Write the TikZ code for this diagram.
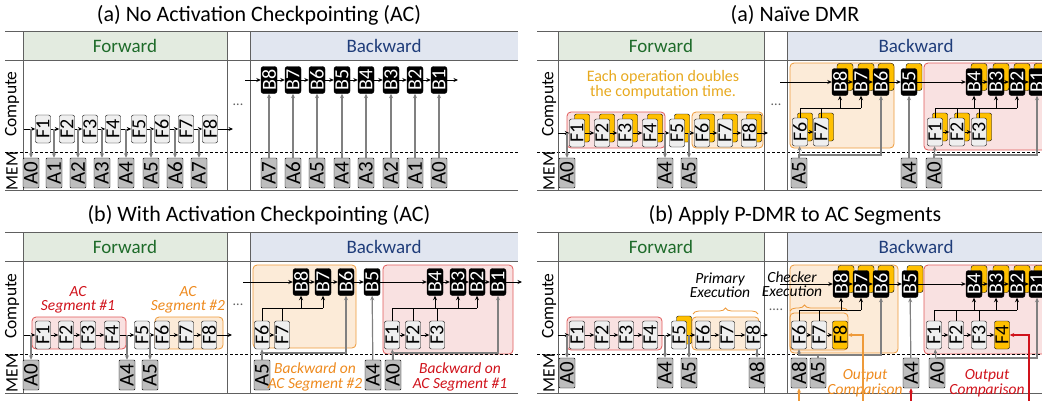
\documentclass[tikz,border=0pt]{standalone}
\usepackage{fontspec}
\setmainfont{Carlito}
\usetikzlibrary{arrows.meta,shadows,decorations.pathreplacing}
\definecolor{fwdfill}{HTML}{E3EBE0}
\definecolor{fwdtext}{HTML}{1E6B2A}
\definecolor{bwdfill}{HTML}{E1E6F0}
\definecolor{bwdtext}{HTML}{1F3D7A}
\definecolor{segred}{HTML}{E05A5A}
\definecolor{segredfill}{HTML}{F9E1E1}
\definecolor{txtred}{HTML}{D0121B}
\definecolor{segorange}{HTML}{EE9A3A}
\definecolor{segorangefill}{HTML}{FCEBD8}
\definecolor{txtorange}{HTML}{EE8A1E}
\definecolor{dmryel}{HTML}{FFC000}
\definecolor{goldtext}{HTML}{E7A91F}
\definecolor{fgray}{HTML}{EFEFEF}
\definecolor{agray}{HTML}{BDBDBD}
\definecolor{arrowgray}{HTML}{808080}
\definecolor{framegray}{HTML}{606060}

\begin{document}
\begin{tikzpicture}[
    x=1pt,y=-1pt,>={Stealth[length=4.5pt,width=4pt]},
    fop/.style={draw,fill=fgray,rounded corners=2pt,minimum width=15pt,minimum height=28pt,inner sep=0pt,font=\fontsize{20}{20}\selectfont},
    bop/.style={draw,fill=black,text=white,rounded corners=2.5pt,minimum width=16pt,minimum height=27pt,inner sep=0pt,font=\fontsize{20}{20}\selectfont},
    aop/.style={draw,fill=agray,rounded corners=1pt,minimum width=16pt,minimum height=30pt,inner sep=0pt,font=\fontsize{21}{21}\selectfont},
    dup/.style={copy shadow={fill=dmryel,draw=black,shadow xshift=5pt,shadow yshift=5pt}},
    title/.style={font=\fontsize{22}{22}\selectfont},
    fwdhead/.style={fill=fwdfill,text=fwdtext,font=\fontsize{19}{19}\selectfont,inner sep=0pt,minimum height=29pt},
    bwdhead/.style={fill=bwdfill,text=bwdtext,font=\fontsize{19}{19}\selectfont,inner sep=0pt,minimum height=29pt},
    side/.style={rotate=90,font=\fontsize{17.5}{17.5}\selectfont,inner sep=0pt},
    frame/.style={draw=framegray,line width=1pt},
    memline/.style={densely dashed,line width=0.6pt},
    flow/.style={->,line width=0.8pt},
    bus/.style={line width=0.8pt},
    garrow/.style={->,draw=arrowgray,line width=1.2pt},
    redbox/.style={draw=segred,fill=segredfill,rounded corners=4pt,line width=0.8pt},
    orangebox/.style={draw=segorange,fill=segorangefill,rounded corners=4pt,line width=0.8pt},
    note/.style={font=\fontsize{15.5}{14.5}\selectfont\itshape,align=center},
    dots/.style={font=\fontsize{14}{14}\selectfont,text=framegray}
    ]
  \useasboundingbox (0,0) rectangle (1042,400);

  \node[title] (ttlA) at (259,15) {(a) No Activation Checkpointing (AC)};
  \node[fwdhead,minimum width=204pt] (fwdA) at (125,45.5) {Forward};
  \node[bwdhead,minimum width=268pt] (bwdA) at (384,45.5) {Backward};
  \draw[frame] (5,31) -- (518,31);
  \draw[frame] (5,60) -- (518,60);
  \draw[memline] (5,152) -- (518,152);
  \draw[frame] (5,190) -- (518,190);
  \draw[frame] (23,31) -- (23,190);
  \draw[frame] (227,31) -- (227,190);
  \draw[frame] (250,31) -- (250,190);
  \node[side] (cmpA) at (12,104) {Compute};
  \node[side] (memA) at (12,171) {MEM};
  \node[dots] (dotsA) at (238,105) {...};
  \node[fop] (fa1) at (43,129) {\rotatebox{90}{F1}};
  \node[fop] (fa2) at (67,129) {\rotatebox{90}{F2}};
  \node[fop] (fa3) at (90,129) {\rotatebox{90}{F3}};
  \node[fop] (fa4) at (113,129) {\rotatebox{90}{F4}};
  \node[fop] (fa5) at (139,129) {\rotatebox{90}{F5}};
  \node[fop] (fa6) at (162,129) {\rotatebox{90}{F6}};
  \node[fop] (fa7) at (186,129) {\rotatebox{90}{F7}};
  \node[fop] (fa8) at (210,129) {\rotatebox{90}{F8}};
  \node[aop] (aa0) at (31,173) {\rotatebox{90}{A0}};
  \node[aop] (aa1) at (54,173) {\rotatebox{90}{A1}};
  \node[aop] (aa2) at (78,173) {\rotatebox{90}{A2}};
  \node[aop] (aa3) at (102,173) {\rotatebox{90}{A3}};
  \node[aop] (aa4) at (126,173) {\rotatebox{90}{A4}};
  \node[aop] (aa5) at (151,173) {\rotatebox{90}{A5}};
  \node[aop] (aa6) at (175,173) {\rotatebox{90}{A6}};
  \node[aop] (aa7) at (199,173) {\rotatebox{90}{A7}};
  \coordinate (inA) at (24,129);
  \coordinate (outA) at (233,129);
  \draw[flow] (inA) -- (fa1);
  \draw[flow] (fa1) -- (fa2);
  \draw[flow] (fa2) -- (fa3);
  \draw[flow] (fa3) -- (fa4);
  \draw[flow] (fa4) -- (fa5);
  \draw[flow] (fa5) -- (fa6);
  \draw[flow] (fa6) -- (fa7);
  \draw[flow] (fa7) -- (fa8);
  \draw[flow] (fa8) -- (outA);
  \draw[garrow] (aa0 |- fa1) -- (aa0);
  \draw[garrow] (aa1 |- fa1) -- (aa1);
  \draw[garrow] (aa2 |- fa1) -- (aa2);
  \draw[garrow] (aa3 |- fa1) -- (aa3);
  \draw[garrow] (aa4 |- fa1) -- (aa4);
  \draw[garrow] (aa5 |- fa1) -- (aa5);
  \draw[garrow] (aa6 |- fa1) -- (aa6);
  \draw[garrow] (aa7 |- fa1) -- (aa7);
  \node[bop] (ba8) at (269,80) {\rotatebox{90}{B8}};
  \node[bop] (ba7) at (293,80) {\rotatebox{90}{B7}};
  \node[bop] (ba6) at (317,80) {\rotatebox{90}{B6}};
  \node[bop] (ba5) at (342,80) {\rotatebox{90}{B5}};
  \node[bop] (ba4) at (366,80) {\rotatebox{90}{B4}};
  \node[bop] (ba3) at (391,80) {\rotatebox{90}{B3}};
  \node[bop] (ba2) at (415,80) {\rotatebox{90}{B2}};
  \node[bop] (ba1) at (439,80) {\rotatebox{90}{B1}};
  \node[aop] (ma7) at (269,173) {\rotatebox{90}{A7}};
  \node[aop] (ma6) at (293,173) {\rotatebox{90}{A6}};
  \node[aop] (ma5) at (317,173) {\rotatebox{90}{A5}};
  \node[aop] (ma4) at (342,173) {\rotatebox{90}{A4}};
  \node[aop] (ma3) at (366,173) {\rotatebox{90}{A3}};
  \node[aop] (ma2) at (391,173) {\rotatebox{90}{A2}};
  \node[aop] (ma1) at (415,173) {\rotatebox{90}{A1}};
  \node[aop] (ma0) at (439,173) {\rotatebox{90}{A0}};
  \coordinate (inAb) at (245,80);
  \coordinate (outAb) at (458,80);
  \draw[flow] (inAb) -- (ba8);
  \draw[flow] (ba8) -- (ba7);
  \draw[flow] (ba7) -- (ba6);
  \draw[flow] (ba6) -- (ba5);
  \draw[flow] (ba5) -- (ba4);
  \draw[flow] (ba4) -- (ba3);
  \draw[flow] (ba3) -- (ba2);
  \draw[flow] (ba2) -- (ba1);
  \draw[flow] (ba1) -- (outAb);
  \draw[garrow] (ma7) -- (ba8);
  \draw[garrow] (ma6) -- (ba7);
  \draw[garrow] (ma5) -- (ba6);
  \draw[garrow] (ma4) -- (ba5);
  \draw[garrow] (ma3) -- (ba4);
  \draw[garrow] (ma2) -- (ba3);
  \draw[garrow] (ma1) -- (ba2);
  \draw[garrow] (ma0) -- (ba1);

  \node[title] (ttlB) at (259,215) {(b) With Activation Checkpointing (AC)};
  \node[fwdhead,minimum width=204pt] (fwdB) at (125,246.5) {Forward};
  \node[bwdhead,minimum width=268pt] (bwdB) at (384,246.5) {Backward};
  \draw[redbox] (32,317) rectangle (126,349);
  \draw[orangebox] (155,317) rectangle (223,349);
  \draw[orangebox] (253,265) rectangle (356,348);
  \draw[redbox] (383,265) rectangle (513,354);
  \draw[frame] (5,232) -- (518,232);
  \draw[frame] (5,261) -- (518,261);
  \draw[memline] (5,354) -- (518,354);
  \draw[frame] (5,393) -- (518,393);
  \draw[frame] (23,232) -- (23,393);
  \draw[frame] (227,232) -- (227,393);
  \draw[frame] (250,232) -- (250,393);
  \node[side] (cmpB) at (12,306) {Compute};
  \node[side] (memB) at (12,373) {MEM};
  \node[dots] (dotsB) at (238,305) {...};
  \node[note,text=txtred] (segB1) at (78,300) {AC\\Segment \#1};
  \node[note,text=txtorange] (segB2) at (188,300) {AC\\Segment \#2};
  \node[fop] (fb1) at (43,335) {\rotatebox{90}{F1}};
  \node[fop] (fb2) at (66,335) {\rotatebox{90}{F2}};
  \node[fop] (fb3) at (88,335) {\rotatebox{90}{F3}};
  \node[fop] (fb4) at (112,335) {\rotatebox{90}{F4}};
  \node[fop] (fb5) at (142,335) {\rotatebox{90}{F5}};
  \node[fop] (fb6) at (162,335) {\rotatebox{90}{F6}};
  \node[fop] (fb7) at (186,335) {\rotatebox{90}{F7}};
  \node[fop] (fb8) at (209,335) {\rotatebox{90}{F8}};
  \node[aop] (ab0) at (31,375) {\rotatebox{90}{A0}};
  \node[aop] (ab4) at (127,375) {\rotatebox{90}{A4}};
  \node[aop] (ab5) at (150,375) {\rotatebox{90}{A5}};
  \coordinate (inB) at (24,335);
  \coordinate (outB) at (232,335);
  \draw[flow] (inB) -- (fb1);
  \draw[flow] (fb1) -- (fb2);
  \draw[flow] (fb2) -- (fb3);
  \draw[flow] (fb3) -- (fb4);
  \draw[flow] (fb4) -- (fb5);
  \draw[flow] (fb5) -- (fb6);
  \draw[flow] (fb6) -- (fb7);
  \draw[flow] (fb7) -- (fb8);
  \draw[flow] (fb8) -- (outB);
  \draw[garrow] (ab0 |- fb1) -- (ab0);
  \draw[garrow] (ab4 |- fb1) -- (ab4);
  \draw[garrow] (ab5 |- fb1) -- (ab5);
  \node[bop] (bb8) at (301,282) {\rotatebox{90}{B8}};
  \node[bop] (bb7) at (323,282) {\rotatebox{90}{B7}};
  \node[bop] (bb6) at (346,282) {\rotatebox{90}{B6}};
  \node[bop] (bb5) at (372,282) {\rotatebox{90}{B5}};
  \node[bop] (bb4) at (435,282) {\rotatebox{90}{B4}};
  \node[bop] (bb3) at (458,282) {\rotatebox{90}{B3}};
  \node[bop] (bb2) at (477,282) {\rotatebox{90}{B2}};
  \node[bop] (bb1) at (498,282) {\rotatebox{90}{B1}};
  \node[fop] (bf6) at (262,335) {\rotatebox{90}{F6}};
  \node[fop] (bf7) at (282,335) {\rotatebox{90}{F7}};
  \node[fop] (bf1) at (392,335) {\rotatebox{90}{F1}};
  \node[fop] (bf2) at (413,335) {\rotatebox{90}{F2}};
  \node[fop] (bf3) at (437,335) {\rotatebox{90}{F3}};
  \node[aop] (mb5) at (262,375) {\rotatebox{90}{A5}};
  \node[aop] (mb4) at (373,375) {\rotatebox{90}{A4}};
  \node[aop] (mb0) at (393,375) {\rotatebox{90}{A0}};
  \node[note,text=txtorange] (bwdB2) at (315,377) {Backward on\\AC Segment \#2};
  \node[note,text=txtred] (bwdB1) at (460,377) {Backward on\\AC Segment \#1};
  \coordinate (inBb) at (243,282);
  \coordinate (outBb) at (522,282);
  \coordinate (busB) at (0,308);
  \coordinate (glB) at (0,353);
  \draw[flow] (inBb) -- (bb8);
  \draw[flow] (bb8) -- (bb7);
  \draw[flow] (bb7) -- (bb6);
  \draw[flow] (bb6) -- (bb5);
  \draw[flow] (bb5) -- (bb4);
  \draw[flow] (bb4) -- (bb3);
  \draw[flow] (bb3) -- (bb2);
  \draw[flow] (bb2) -- (bb1);
  \draw[flow] (bb1) -- (outBb);
  \draw[flow] (bf6) -- (bf7);
  \draw[flow] (bf1) -- (bf2);
  \draw[flow] (bf2) -- (bf3);
  \draw[bus] (bf6.north) |- (bb7 |- busB);
  \draw[bus] (bf7.north) -- (bf7 |- busB);
  \draw[flow] (bb8 |- busB) -- (bb8);
  \draw[flow] (bb7 |- busB) -- (bb7);
  \draw[bus] (bf1.north) |- (bb2 |- busB);
  \draw[bus] (bf2.north) -- (bf2 |- busB);
  \draw[bus] (bf3.north) -- (bf3 |- busB);
  \draw[flow] (bb4 |- busB) -- (bb4);
  \draw[flow] (bb3 |- busB) -- (bb3);
  \draw[flow] (bb2 |- busB) -- (bb2);
  \draw[garrow] (mb5) -- (bf6);
  \draw[garrow] (mb5.north) |- (bb6 |- glB) -- (bb6);
  \draw[garrow] (mb4) -- (bb5);
  \draw[garrow] (mb0) -- (bf1);
  \draw[garrow] (mb0.north) |- (bb1 |- glB) -- (bb1);

  \node[title] (ttlC) at (795,15) {(a) Naïve DMR};
  \node[fwdhead,minimum width=206pt] (fwdC) at (661,45.5) {Forward};
  \node[bwdhead,minimum width=258pt] (bwdC) at (916,45.5) {Backward};
  \draw[redbox] (567,112) rectangle (665,148);
  \draw[orangebox] (692,112) rectangle (763,148);
  \draw[orangebox] (790,63) rectangle (894,148);
  \draw[redbox] (924,63) rectangle (1060,150);
  \draw[frame] (537,31) -- (1045,31);
  \draw[frame] (537,60) -- (1045,60);
  \draw[memline] (537,152) -- (1045,152);
  \draw[frame] (537,190) -- (1045,190);
  \draw[frame] (558,31) -- (558,190);
  \draw[frame] (764,31) -- (764,190);
  \draw[frame] (787,31) -- (787,190);
  \node[side] (cmpC) at (549,104) {Compute};
  \node[side] (memC) at (549,171) {MEM};
  \node[dots] (dotsC) at (776,105) {...};
  \node[font=\fontsize{16}{15}\selectfont,text=goldtext,align=center] (noteC) at (663,85) {Each operation doubles\\the computation time.};
  \node[fop,dup] (fc1) at (577,133) {\rotatebox{90}{F1}};
  \node[fop,dup] (fc2) at (602,133) {\rotatebox{90}{F2}};
  \node[fop,dup] (fc3) at (625,133) {\rotatebox{90}{F3}};
  \node[fop,dup] (fc4) at (650,133) {\rotatebox{90}{F4}};
  \node[fop,dup] (fc5) at (677,133) {\rotatebox{90}{F5}};
  \node[fop,dup] (fc6) at (702,133) {\rotatebox{90}{F6}};
  \node[fop,dup] (fc7) at (725,133) {\rotatebox{90}{F7}};
  \node[fop,dup] (fc8) at (749,133) {\rotatebox{90}{F8}};
  \node[aop] (ac0) at (567,173) {\rotatebox{90}{A0}};
  \node[aop] (ac4) at (665,173) {\rotatebox{90}{A4}};
  \node[aop] (ac5) at (689,173) {\rotatebox{90}{A5}};
  \coordinate (inC) at (558,133);
  \coordinate (outC) at (768,133);
  \draw[flow] (inC) -- (fc1);
  \draw[flow] (fc1) -- (fc2);
  \draw[flow] (fc2) -- (fc3);
  \draw[flow] (fc3) -- (fc4);
  \draw[flow] (fc4) -- (fc5);
  \draw[flow] (fc5) -- (fc6);
  \draw[flow] (fc6) -- (fc7);
  \draw[flow] (fc7) -- (fc8);
  \draw[flow] (fc8) -- (outC);
  \draw[garrow] (ac0 |- fc1) -- (ac0);
  \draw[garrow] (ac4 |- fc1) -- (ac4);
  \draw[garrow] (ac5 |- fc1) -- (ac5);
  \node[bop,dup] (bc8) at (840,82) {\rotatebox{90}{B8}};
  \node[bop,dup] (bc7) at (861,82) {\rotatebox{90}{B7}};
  \node[bop,dup] (bc6) at (881,82) {\rotatebox{90}{B6}};
  \node[bop,dup] (bc5) at (909,82) {\rotatebox{90}{B5}};
  \node[bop,dup] (bc4) at (974,82) {\rotatebox{90}{B4}};
  \node[bop,dup] (bc3) at (996,82) {\rotatebox{90}{B3}};
  \node[bop,dup] (bc2) at (1017,82) {\rotatebox{90}{B2}};
  \node[bop,dup] (bc1) at (1037,82) {\rotatebox{90}{B1}};
  \node[fop,dup] (cf6) at (800,132) {\rotatebox{90}{F6}};
  \node[fop,dup] (cf7) at (821,132) {\rotatebox{90}{F7}};
  \node[fop,dup] (cf1) at (935,132) {\rotatebox{90}{F1}};
  \node[fop,dup] (cf2) at (957,132) {\rotatebox{90}{F2}};
  \node[fop,dup] (cf3) at (979,132) {\rotatebox{90}{F3}};
  \node[aop] (mc5) at (799,173) {\rotatebox{90}{A5}};
  \node[aop] (mc4) at (909,173) {\rotatebox{90}{A4}};
  \node[aop] (mc0) at (934,173) {\rotatebox{90}{A0}};
  \coordinate (inCb) at (780,82);
  \coordinate (outCb) at (1060,82);
  \coordinate (busC) at (0,108);
  \coordinate (glC) at (0,155);
  \draw[flow] (inCb) -- (bc8);
  \draw[flow] (bc8) -- (bc7);
  \draw[flow] (bc7) -- (bc6);
  \draw[flow] (bc6) -- (bc5);
  \draw[flow] (bc5) -- (bc4);
  \draw[flow] (bc4) -- (bc3);
  \draw[flow] (bc3) -- (bc2);
  \draw[flow] (bc2) -- (bc1);
  \draw[flow] (bc1) -- (outCb);
  \draw[flow] (cf6) -- (cf7);
  \draw[flow] (cf1) -- (cf2);
  \draw[flow] (cf2) -- (cf3);
  \draw[bus] (cf6.north) |- (bc7 |- busC);
  \draw[bus] (cf7.north) -- (cf7 |- busC);
  \draw[flow] (bc8 |- busC) -- (bc8);
  \draw[flow] (bc7 |- busC) -- (bc7);
  \draw[bus] (cf1.north) |- (bc2 |- busC);
  \draw[bus] (cf2.north) -- (cf2 |- busC);
  \draw[bus] (cf3.north) -- (cf3 |- busC);
  \draw[flow] (bc4 |- busC) -- (bc4);
  \draw[flow] (bc3 |- busC) -- (bc3);
  \draw[flow] (bc2 |- busC) -- (bc2);
  \draw[garrow] (mc5) -- (cf6);
  \draw[garrow] (mc5.north) |- (bc6 |- glC) -- (bc6);
  \draw[garrow] (mc4) -- (bc5);
  \draw[garrow] (mc0) -- (cf1);
  \draw[garrow] (mc0.north) |- (bc1 |- glC) -- (bc1);

  \node[title] (ttlD) at (795,215) {(b) Apply P-DMR to AC Segments};
  \node[fwdhead,minimum width=206pt] (fwdD) at (661,246.5) {Forward};
  \node[bwdhead,minimum width=258pt] (bwdD) at (916,246.5) {Backward};
  \draw[redbox] (567,317) rectangle (662,350);
  \draw[orangebox] (692,317) rectangle (759,350);
  \draw[orangebox] (790,265) rectangle (898,353);
  \draw[orangebox,fill=none] (790,313) rectangle (848,350);
  \draw[redbox] (924,265) rectangle (1060,354);
  \draw[frame] (537,232) -- (1045,232);
  \draw[frame] (537,261) -- (1045,261);
  \draw[memline] (537,354) -- (1045,354);
  \draw[frame] (537,393) -- (1045,393);
  \draw[frame] (558,232) -- (558,393);
  \draw[frame] (764,232) -- (764,393);
  \draw[frame] (787,232) -- (787,393);
  \node[side] (cmpD) at (549,306) {Compute};
  \node[side] (memD) at (549,373) {MEM};
  \node[dots] (dotsD) at (776,310) {....};
  \draw[draw=segorange,line width=0.8pt,decorate,decoration={brace,amplitude=6pt}] (693,314) -- (758,314);
  \draw[draw=segorange,line width=0.8pt,decorate,decoration={brace,amplitude=6pt,aspect=0.25}] (790,311) -- (848,311);
  \node[note] (primD) at (720,285) {Primary\\Execution};
  \node[note] (chkD) at (792,284) {Checker\\Execution};
  \node[fop] (fd1) at (577,335) {\rotatebox{90}{F1}};
  \node[fop] (fd2) at (602,335) {\rotatebox{90}{F2}};
  \node[fop] (fd3) at (626,335) {\rotatebox{90}{F3}};
  \node[fop] (fd4) at (650,335) {\rotatebox{90}{F4}};
  \node[fop,dup] (fd5) at (679,335) {\rotatebox{90}{F5}};
  \node[fop] (fd6) at (703,335) {\rotatebox{90}{F6}};
  \node[fop] (fd7) at (727,335) {\rotatebox{90}{F7}};
  \node[fop] (fd8) at (753,335) {\rotatebox{90}{F8}};
  \node[aop] (ad0) at (567,373) {\rotatebox{90}{A0}};
  \node[aop] (ad4) at (665,373) {\rotatebox{90}{A4}};
  \node[aop] (ad5) at (689,373) {\rotatebox{90}{A5}};
  \node[aop] (ad8) at (757,373) {\rotatebox{90}{A8}};
  \coordinate (inD) at (558,335);
  \coordinate (outD) at (768,335);
  \draw[flow] (inD) -- (fd1);
  \draw[flow] (fd1) -- (fd2);
  \draw[flow] (fd2) -- (fd3);
  \draw[flow] (fd3) -- (fd4);
  \draw[flow] (fd4) -- (fd5);
  \draw[flow] (fd5) -- (fd6);
  \draw[flow] (fd6) -- (fd7);
  \draw[flow] (fd7) -- (fd8);
  \draw[flow] (fd8) -- (outD);
  \draw[garrow] (ad0 |- fd1) -- (ad0);
  \draw[garrow] (ad4 |- fd1) -- (ad4);
  \draw[garrow] (ad5 |- fd1) -- (ad5);
  \draw[garrow] (ad8 |- fd8.south) -- (ad8);
  \node[bop,dup] (bd8) at (841,284) {\rotatebox{90}{B8}};
  \node[bop,dup] (bd7) at (861,284) {\rotatebox{90}{B7}};
  \node[bop,dup] (bd6) at (881,284) {\rotatebox{90}{B6}};
  \node[bop,dup] (bd5) at (910,284) {\rotatebox{90}{B5}};
  \node[bop,dup] (bd4) at (974,284) {\rotatebox{90}{B4}};
  \node[bop,dup] (bd3) at (996,284) {\rotatebox{90}{B3}};
  \node[bop,dup] (bd2) at (1017,284) {\rotatebox{90}{B2}};
  \node[bop,dup] (bd1) at (1037,284) {\rotatebox{90}{B1}};
  \node[fop] (df6) at (799,335) {\rotatebox{90}{F6}};
  \node[fop] (df7) at (819,335) {\rotatebox{90}{F7}};
  \node[fop,fill=dmryel] (df8) at (840,335) {\rotatebox{90}{F8}};
  \node[fop] (df1) at (934,335) {\rotatebox{90}{F1}};
  \node[fop] (df2) at (956,335) {\rotatebox{90}{F2}};
  \node[fop] (df3) at (979,335) {\rotatebox{90}{F3}};
  \node[fop,fill=dmryel] (df4) at (1002,335) {\rotatebox{90}{F4}};
  \node[aop] (md8) at (799,373) {\rotatebox{90}{A8}};
  \node[aop] (md5) at (818,373) {\rotatebox{90}{A5}};
  \node[aop] (md4) at (911,373) {\rotatebox{90}{A4}};
  \node[aop] (md0) at (937,373) {\rotatebox{90}{A0}};
  \node[note,text=txtorange] (cmpO) at (865,383) {Output\\Comparison};
  \node[note,text=txtred] (cmpR) at (987,383) {Output\\Comparison};
  \coordinate (inDb) at (780,284);
  \coordinate (outDb) at (1060,284);
  \coordinate (busD) at (0,310);
  \coordinate (glD) at (0,355);
  \coordinate (glD2) at (0,358);
  \coordinate (srcO1) at (863,405);
  \coordinate (srcO2) at (799,405);
  \coordinate (srcR1) at (1029,405);
  \coordinate (srcR2) at (911,405);
  \draw[flow] (inDb) -- (bd8);
  \draw[flow] (bd8) -- (bd7);
  \draw[flow] (bd7) -- (bd6);
  \draw[flow] (bd6) -- (bd5);
  \draw[flow] (bd5) -- (bd4);
  \draw[flow] (bd4) -- (bd3);
  \draw[flow] (bd3) -- (bd2);
  \draw[flow] (bd2) -- (bd1);
  \draw[flow] (bd1) -- (outDb);
  \draw[flow] (df6) -- (df7);
  \draw[flow] (df7) -- (df8);
  \draw[flow] (df1) -- (df2);
  \draw[flow] (df2) -- (df3);
  \draw[flow] (df3) -- (df4);
  \draw[bus] (df6.north) |- (bd7 |- busD);
  \draw[bus] (df7.north) -- (df7 |- busD);
  \draw[flow] (bd8 |- busD) -- (bd8);
  \draw[flow] (bd7 |- busD) -- (bd7);
  \draw[bus] (df1.north) |- (bd2 |- busD);
  \draw[bus] (df2.north) -- (df2 |- busD);
  \draw[bus] (df3.north) -- (df3 |- busD);
  \draw[flow] (bd4 |- busD) -- (bd4);
  \draw[flow] (bd3 |- busD) -- (bd3);
  \draw[flow] (bd2 |- busD) -- (bd2);
  \draw[garrow] (md5.north) |- (df6 |- glD) -- (df6);
  \draw[garrow] (md5.north) |- (bd6 |- glD) -- (bd6);
  \draw[garrow] (md4) -- (bd5);
  \draw[garrow] (md0) -- (df1);
  \draw[garrow] (md0.north) |- (bd1 |- glD2) -- (bd1);
  \draw[->,draw=segorange,line width=1.2pt] (srcO1) |- (df8);
  \draw[->,draw=segorange,line width=1.2pt] (srcO2) -- (md8);
  \draw[->,draw=txtred,line width=1.2pt] (srcR1) |- (df4);
  \draw[->,draw=txtred,line width=1.2pt] (srcR2) -- (md4);
\end{tikzpicture}
\end{document}
